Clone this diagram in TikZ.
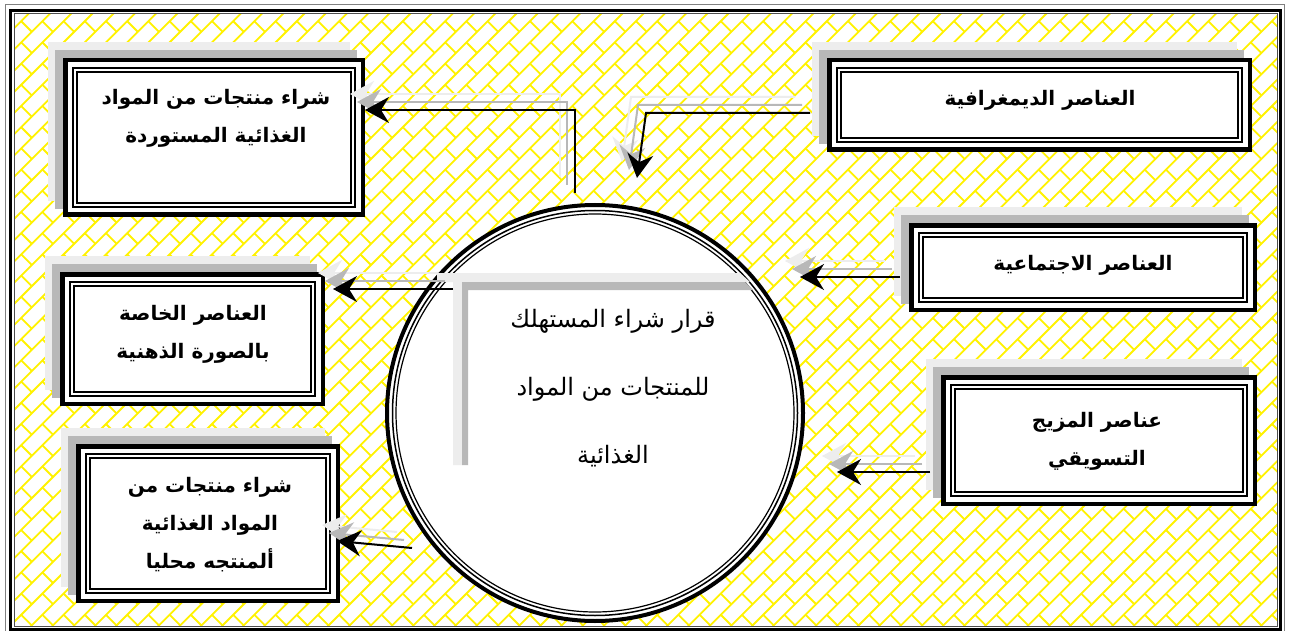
\documentclass[tikz,border=0pt]{standalone}
\usepackage{fontspec}
\newfontfamily\arabicfont[Script=Arabic]{DejaVu Sans}
\TeXXeTstate=1
\usetikzlibrary{arrows.meta,calc}
\definecolor{shD}{gray}{0.72}
\definecolor{shL}{gray}{0.93}
\pgfdeclarelayer{bg}\pgfdeclarelayer{shadow}
\pgfsetlayers{bg,shadow,main}
\tikzset{
  tbox/.style={draw, rectangle, line width=4.5pt, outer sep=2.25pt, inner sep=0pt, fill=white},
  btext/.style={font=\arabicfont\bfseries\fontsize{20}{38}\selectfont, align=center, inner sep=0pt},
  ctextstyle/.style={font=\arabicfont\fontsize{24}{68}\selectfont, align=center, inner sep=0pt},
  arr/.style={line width=2pt, -{Stealth[length=24pt,width=26pt,inset=8pt]}},
  brick/.style={draw=yellow, line width=1.8pt},
}
\newcommand\tbx[5]{%
  \node[tbox, minimum width={#4-#2-4.5}, minimum height={#5-#3-4.5}] (#1) at ({(#2+#4)/2},{(#3+#5)/2}) {};
  \draw[line width=2pt] ($(#1.north west)+(9.7,9.7)$) rectangle ($(#1.south east)+(-9.7,-9.7)$);
  \draw[line width=1.5pt] ($(#1.north west)+(14.2,14.2)$) rectangle ($(#1.south east)+(-14.2,-14.2)$);
  \begin{pgfonlayer}{shadow}
    \fill[shL] ($(#1.north west)+(-15,-16)$) rectangle ($(#1.south east)+(-15,-16)$);
    \fill[shD] ($(#1.north west)+(-8,-8)$) rectangle ($(#1.south east)+(-8,-8)$);
  \end{pgfonlayer}
}
\newcommand\sharr[1]{%
  \draw[arr, draw=shL, transform canvas={shift={(-15,-16)}}] #1;
  \draw[arr, draw=shD, transform canvas={shift={(-8,-8)}}] #1;
  \draw[arr] #1;
}
\begin{document}
\begin{tikzpicture}[x=1pt,y=-1pt]
\useasboundingbox (0,0) rectangle (1290,631);
\begin{pgfonlayer}{bg}
  \fill[white] (0,0) rectangle (1290,631);
  \begin{scope}
    \clip (15,15) rectangle (1277,626);
    \foreach \k in {0,...,91} {
      \pgfmathsetmacro\cc{\k*21.2}
      \pgfmathsetmacro\off{mod(\k,2)*21.2}
      \draw[brick] (\cc,0) -- ({\cc-660},660);
      \draw[brick] foreach \j in {-15,...,31} {({(\cc+\j*42.4+\off)/2},{(\cc-\j*42.4-\off)/2}) -- ++(10.6,10.6)};
    }
  \end{scope}
\end{pgfonlayer}

% central circle
\node[circle, draw, line width=4pt, minimum size=416pt, inner sep=0pt, outer sep=2pt, fill=white] (dec) at (595,413) {};
\draw[line width=1.5pt] (dec.center) circle[radius=202.5];
\draw[line width=1.2pt] (dec.center) circle[radius=199];

% text box shadow inside circle
\fill[shL] (437,273) -- (740,273) -- (750,282) -- (462,282) -- (462,465) -- (453,465) -- (453,282) -- (437,282) -- cycle;
\fill[shD] (462,282) -- (745,282) -- (753,290) -- (468,290) -- (468,465) -- (462,465) -- cycle;
\node[ctextstyle] (ctext) at (613,388) {\beginR قرار شراء المستهلك\endR\\ \beginR للمنتجات من المواد\endR\\ \beginR الغذائية\endR};

% boxes
\tbx{tl}{63}{58}{365}{217}
\tbx{tr}{827}{58}{1252}{152}
\tbx{rb}{909}{223}{1257}{312}
\tbx{rc}{941}{375}{1257}{506}
\tbx{lb}{60}{272}{325}{406}
\tbx{lc}{76}{444}{340}{603}

\node[btext] (tlt) at (216,118) {\beginR شراء منتجات من المواد\endR\\ \beginR الغذائية المستوردة\endR};
\node[btext] (trt) at (1040,100) {\beginR العناصر الديمغرافية\endR};
\node[btext] (rbt) at (1083,265) {\beginR العناصر الاجتماعية\endR};
\node[btext] (rct) at (1097,441) {\beginR عناصر المزيج\endR\\ \beginR التسويقي\endR};
\node[btext] (lbt) at (193,334) {\beginR العناصر الخاصة\endR\\ \beginR بالصورة الذهنية\endR};
\node[btext] (lct) at (210,525) {\beginR شراء منتجات من\endR\\ \beginR المواد الغذائية\endR\\ \beginR ألمنتجه محليا\endR};

% connector points
\coordinate (a1s) at (575,193);
\coordinate (a1b) at (575,110);
\coordinate (a1e) at (tl.east |- a1b);
\coordinate (a2y) at (0,113);
\coordinate (a2s) at ($(tr.west |- a2y)+(-17,0)$);
\coordinate (a2b) at (646,113);
\coordinate (a2e) at (637,178);
\coordinate (a3y) at (0,277);
\coordinate (a3s) at ($(rb.west |- a3y)+(-9,0)$);
\coordinate (a3e) at (800,277);
\coordinate (a4y) at (0,472);
\coordinate (a4s) at ($(rc.west |- a4y)+(-11,0)$);
\coordinate (a4e) at (837,472);
\coordinate (a5s) at (453,289);
\coordinate (a5e) at ($(lb.east |- a5s)+(8,0)$);
\coordinate (a6s) at (412,548);
\coordinate (a6y) at (0,541);
\coordinate (a6e) at ($(lc.east |- a6y)+(-3,0)$);

\sharr{(a1s) -- (a1b) -- (a1e)}
\sharr{(a2s) -- (a2b) -- (a2e)}
\sharr{(a3s) -- (a3e)}
\sharr{(a4s) -- (a4e)}
\sharr{(a5s) -- (a5e)}
\sharr{(a6s) -- (a6e)}

% page frame
\draw[line width=3pt] (10.5,10.5) rectangle (1280.5,629.5);
\draw[line width=1pt, black!70] (14,14) rectangle (1277,626.5);
\draw[line width=1pt, gray] (5,5) rectangle (1284.5,640);
\end{tikzpicture}
\end{document}
